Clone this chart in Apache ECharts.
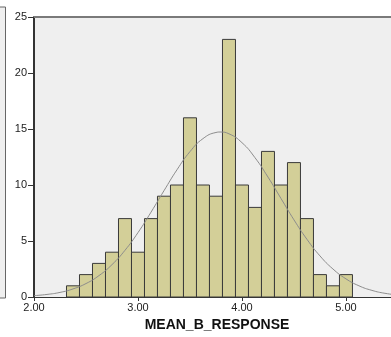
<!DOCTYPE html>
<html>
<head>
<meta charset="utf-8">
<script src="https://cdn.jsdelivr.net/npm/echarts@6/dist/echarts.min.js"></script>
<style>
    html, body { margin: 0; padding: 0; background: #fff; overflow: hidden; }
    /* the chart runs past the right edge of the window, as in the cropped original */
    #hist { width: 394px; height: 337px; }
</style>
</head>
<body>
<div id="hist"></div>
<script>
    // histogram bins (lower edge of each bar), bar width 0.125
    var binLow = [2.3125, 2.4375, 2.5625, 2.6875, 2.8125, 2.9375, 3.0625, 3.1875, 3.3125, 3.4375, 3.5625,
                  3.6875, 3.8125, 3.9375, 4.0625, 4.1875, 4.3125, 4.4375, 4.5625, 4.6875, 4.8125, 4.9375];
    var binWidth = 0.125;
    var counts = [1, 2, 3, 4, 7, 4, 7, 9, 10, 16, 10, 9, 23, 10, 8, 13, 10, 12, 7, 2, 1, 2];

    // normal curve
    var curveX = [2.0, 2.125, 2.25, 2.375, 2.5, 2.625, 2.75, 2.875, 3.0, 3.125, 3.25, 3.375, 3.5, 3.625, 3.75, 3.79,
                  3.875, 4.0, 4.125, 4.25, 4.375, 4.5, 4.625, 4.75, 4.875, 5.0, 5.125, 5.25, 5.375, 5.5];
    var curveY = [0.12, 0.23, 0.41, 0.72, 1.20, 1.91, 2.89, 4.17, 5.75, 7.57, 9.49, 11.36, 12.98, 14.14, 14.69, 14.73,
                  14.57, 13.78, 12.44, 10.71, 8.80, 6.89, 5.15, 3.67, 2.50, 1.62, 1.00, 0.59, 0.33, 0.18];

    var xTicks = [2, 3, 4, 5];

    var barData = [];
    for (var i = 0; i < counts.length; i++) {
        barData.push([binLow[i], binLow[i] + binWidth, counts[i]]);
    }
    var lineData = [];
    for (var j = 0; j < curveX.length; j++) {
        lineData.push([curveX[j], curveY[j]]);
    }

    var myChart = echarts.init(document.getElementById('hist'));
    var labelFont = { fontFamily: 'Liberation Sans', fontSize: 11, color: '#222' };

    var option = {
        animation: false,
        textStyle: { fontFamily: 'Liberation Sans' },
        grid: {
            left: 34, top: 17, right: 0, bottom: 40,
            show: true, backgroundColor: '#efefef', borderWidth: 0
        },
        // edge of the neighbouring chart, cut off at the left
        graphic: [{
            type: 'rect',
            shape: { x: -2, y: 7, width: 7.5, height: 291 },
            style: { fill: '#efefef', stroke: '#666', lineWidth: 1 }
        }],
        xAxis: [{
            type: 'value',
            min: 2, max: 5.462,
            name: 'MEAN_B_RESPONSE',
            nameLocation: 'middle',
            nameGap: 19,
            nameTextStyle: { fontFamily: 'Liberation Sans', fontSize: 14, fontWeight: 'bold', color: '#111', verticalAlign: 'top', padding: [0, 0, 0, 6] },
            splitLine: { show: false },
            axisLine: { show: true, onZero: false, lineStyle: { color: '#333', width: 1 } },
            axisTick: { show: true, length: 4, customValues: xTicks, lineStyle: { color: '#333' } },
            axisLabel: Object.assign({
                margin: 5,
                customValues: xTicks,
                formatter: function (v) { return v.toFixed(2); }
            }, labelFont)
        }, {
            type: 'value',
            position: 'top',
            min: 2, max: 5.462,
            splitLine: { show: false },
            axisLine: { show: true, onZero: false, lineStyle: { color: '#7a7a7a', width: 2 } },
            axisTick: { show: false },
            axisLabel: { show: false }
        }],
        yAxis: {
            type: 'value',
            position: 'left',
            min: 0, max: 25, interval: 5,
            splitLine: { show: false },
            axisLine: { show: true, onZero: false, lineStyle: { color: '#333', width: 2 } },
            axisTick: { show: true, length: 6, lineStyle: { color: '#333' } },
            axisLabel: Object.assign({ margin: 7 }, labelFont)
        },
        series: [{
            type: 'custom',
            xAxisIndex: 0,
            data: barData,
            encode: { x: [0, 1], y: 2 },
            renderItem: function (params, api) {
                var p0 = api.coord([api.value(0), api.value(2)]);
                var p1 = api.coord([api.value(1), 0]);
                return {
                    type: 'rect',
                    shape: { x: p0[0], y: p0[1], width: p1[0] - p0[0], height: p1[1] - p0[1] },
                    style: { fill: '#d3cf98', stroke: '#3a3a3a', lineWidth: 1 }
                };
            }
        }, {
            type: 'line',
            xAxisIndex: 0,
            data: lineData,
            smooth: true,
            showSymbol: false,
            symbol: 'none',
            clip: true,
            lineStyle: { color: '#8c8c8c', width: 1 }
        }]
    };

    myChart.setOption(option);
</script>
</body>
</html>
